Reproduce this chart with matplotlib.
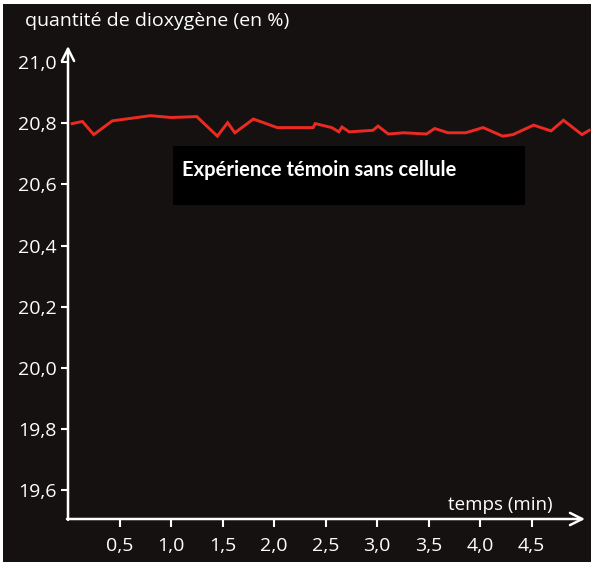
import matplotlib
matplotlib.use("Agg")
import matplotlib.pyplot as plt
from matplotlib.patches import Rectangle

# ---- data ----
time_min = [0.04, 0.14, 0.25, 0.43, 0.80, 1.00, 1.25, 1.45, 1.55, 1.62, 1.80, 2.03,
            2.38, 2.40, 2.56, 2.63, 2.66, 2.73, 2.96, 3.01, 3.11, 3.26, 3.48, 3.56,
            3.69, 3.86, 4.03, 4.22, 4.32, 4.52, 4.69, 4.81, 4.99, 5.06]
oxygen_pct = [20.799, 20.806, 20.763, 20.808, 20.825, 20.819, 20.822, 20.758, 20.802,
              20.769, 20.814, 20.786, 20.786, 20.799, 20.786, 20.772, 20.788, 20.772,
              20.777, 20.791, 20.765, 20.769, 20.765, 20.783, 20.769, 20.769, 20.786,
              20.758, 20.763, 20.794, 20.775, 20.810, 20.763, 20.777]
x_ticks = [0.5, 1.0, 1.5, 2.0, 2.5, 3.0, 3.5, 4.0, 4.5]
x_tick_labels = ["0,5", "1,0", "1,5", "2,0", "2,5", "3,0", "3,5", "4,0", "4,5"]
y_ticks = [19.6, 19.8, 20.0, 20.2, 20.4, 20.6, 20.8, 21.0]
y_tick_labels = ["19,6", "19,8", "20,0", "20,2", "20,4", "20,6", "20,8", "21,0"]
y_label = "quantité de dioxygène (en %)"
x_label = "temps (min)"
annotation = "Expérience témoin sans cellule"

W, H = 594, 565
BG = "#141110"
fig = plt.figure(figsize=(W / 100, H / 100), dpi=100, facecolor="white")
fig.patches.append(Rectangle((3 / W, 3 / H), (W - 6) / W, (H - 7) / H,
                             transform=fig.transFigure, facecolor=BG,
                             edgecolor="none", zorder=-10))

x0, x1 = 68, 585
ytop, ybot = 46, 519
ax = fig.add_axes([x0 / W, 1 - ybot / H, (x1 - x0) / W, (ybot - ytop) / H])
ax.set_zorder(1)
ax.set_facecolor("none")
xmax = (x1 - x0) / 103
ymin, ymax = 19.505, 21.053
ax.set_xlim(0, xmax)
ax.set_ylim(ymin, ymax)
for s in ax.spines.values():
    s.set_visible(False)

font = "Open Sans"
ax.annotate("", xy=(xmax, ymin), xytext=(-0.01, ymin),
            arrowprops=dict(arrowstyle="->", color="white", lw=1.8,
                            mutation_scale=22, shrinkA=0, shrinkB=0),
            annotation_clip=False)
ax.annotate("", xy=(0, ymax), xytext=(0, ymin - 0.003),
            arrowprops=dict(arrowstyle="->", color="white", lw=1.8,
                            mutation_scale=22, shrinkA=0, shrinkB=0),
            annotation_clip=False)

ax.set_xticks(x_ticks)
ax.set_xticklabels(x_tick_labels, fontfamily=font, fontsize=14, color="white")
ax.set_yticks(y_ticks)
ax.set_yticklabels(y_tick_labels, fontfamily=font, fontsize=14, color="white")
ax.tick_params(axis="x", colors="white", length=6, width=1.5, pad=7)
ax.tick_params(axis="y", colors="white", length=5, width=1.5, pad=3)

ax.plot(time_min, oxygen_pct, color="#ec2a22", lw=2.1, solid_joinstyle="miter",
        clip_on=False, zorder=3)

fig.text(25 / W, 1 - 21 / H, y_label, fontfamily=font, fontsize=14,
         color="white", ha="left", va="center")
fig.text(500 / W, 1 - 505 / H, x_label, fontfamily=font, fontsize=13.5,
         color="white", ha="center", va="center")

box = Rectangle((173 / W, 1 - 205 / H), (525 - 173) / W, (205 - 146) / H,
                transform=fig.transFigure, facecolor="black",
                edgecolor="none", zorder=4)
fig.patches.append(box)
fig.text(182 / W, 1 - 170 / H, annotation, fontfamily="Lato", fontweight="bold",
         fontsize=14.5, color="white", ha="left", va="center", zorder=5)

fig.savefig("out.png", dpi=100, facecolor="white")
